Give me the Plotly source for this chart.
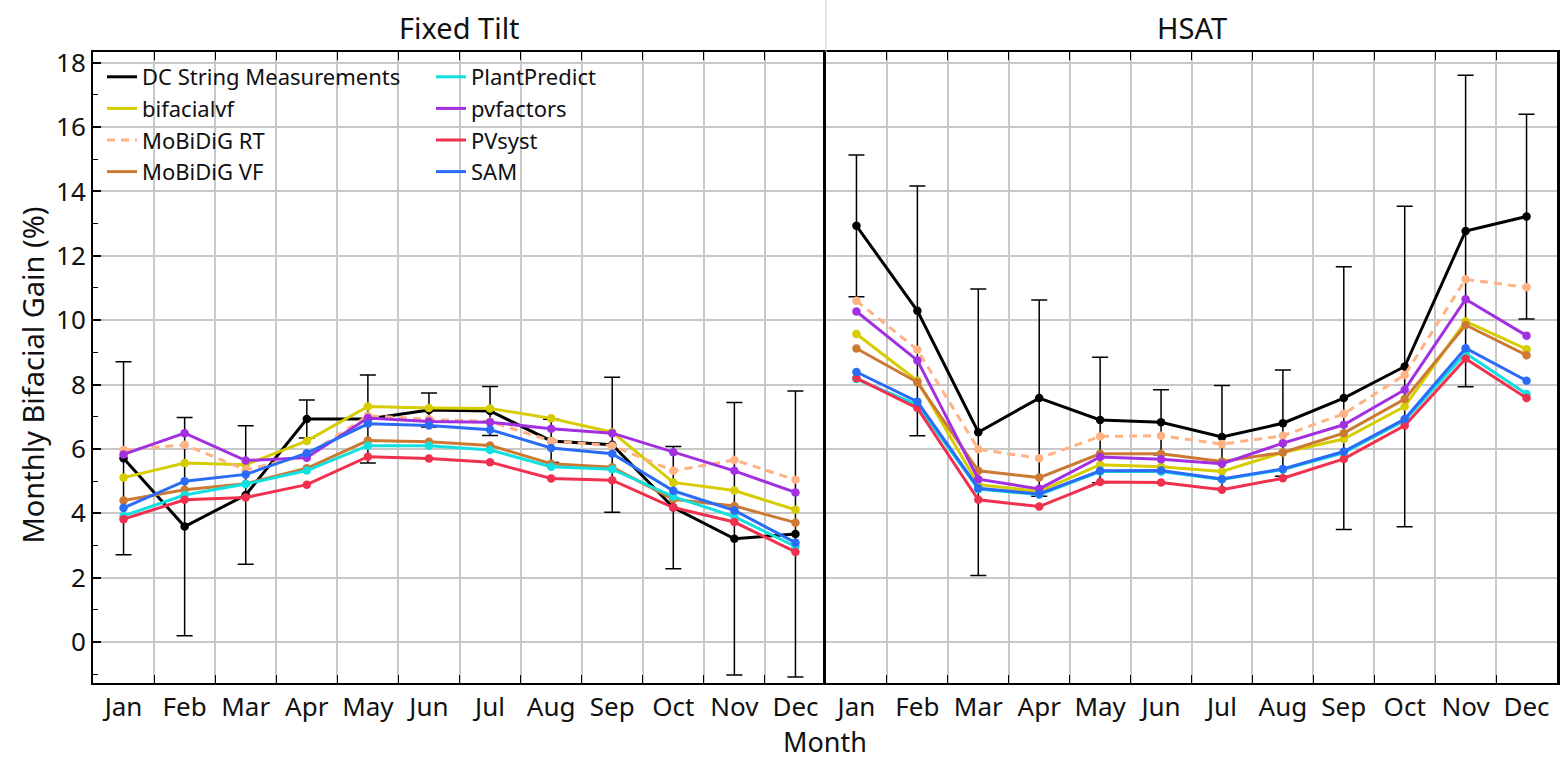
import plotly.graph_objects as go

# ---------------- data ----------------
months = ["Jan", "Feb", "Mar", "Apr", "May", "Jun", "Jul", "Aug", "Sep", "Oct", "Nov", "Dec"]
month_pos = list(range(1, 13))

panel_titles = ["Fixed Tilt", "HSAT"]

# Fixed tilt
fixed_dc = [5.71, 3.59, 4.57, 6.93, 6.93, 7.21, 7.18, 6.25, 6.13, 4.18, 3.21, 3.36]
fixed_dc_err = [3.0, 3.39, 2.15, 0.59, 1.37, 0.53, 0.76, 0.67, 2.1, 1.9, 4.23, 4.44]
fixed_bifacialvf = [5.11, 5.56, 5.51, 6.25, 7.32, 7.27, 7.26, 6.95, 6.52, 4.96, 4.71, 4.11]
fixed_mobidig_rt = [5.97, 6.13, 5.35, 5.80, 7.03, 6.92, 6.85, 6.25, 6.10, 5.32, 5.66, 5.04]
fixed_mobidig_vf = [4.40, 4.73, 4.92, 5.40, 6.26, 6.22, 6.11, 5.54, 5.43, 4.44, 4.23, 3.71]
fixed_plantpredict = [3.92, 4.57, 4.91, 5.33, 6.10, 6.10, 5.97, 5.45, 5.37, 4.52, 3.90, 2.97]
fixed_pvfactors = [5.83, 6.49, 5.64, 5.73, 6.96, 6.85, 6.83, 6.63, 6.49, 5.90, 5.32, 4.65]
fixed_pvsyst = [3.82, 4.42, 4.49, 4.89, 5.76, 5.70, 5.59, 5.08, 5.03, 4.18, 3.73, 2.80]
fixed_sam = [4.17, 5.00, 5.21, 5.87, 6.78, 6.73, 6.60, 6.03, 5.85, 4.70, 4.09, 3.09]

# HSAT
hsat_dc = [12.93, 10.29, 6.52, 7.58, 6.90, 6.83, 6.37, 6.80, 7.58, 8.56, 12.77, 13.22]
hsat_dc_err = [2.2, 3.88, 4.45, 3.05, 1.95, 1.01, 1.6, 1.65, 4.08, 4.98, 4.84, 3.18]
hsat_bifacialvf = [9.57, 8.12, 4.89, 4.68, 5.51, 5.45, 5.30, 5.89, 6.31, 7.32, 9.96, 9.10]
hsat_mobidig_rt = [10.60, 9.08, 5.99, 5.71, 6.39, 6.41, 6.15, 6.41, 7.09, 8.30, 11.27, 11.02]
hsat_mobidig_vf = [9.12, 8.07, 5.32, 5.11, 5.85, 5.85, 5.61, 5.89, 6.49, 7.55, 9.85, 8.91]
hsat_plantpredict = [8.17, 7.37, 4.75, 4.58, 5.30, 5.30, 5.05, 5.36, 5.88, 6.88, 8.97, 7.71]
hsat_pvfactors = [10.27, 8.75, 5.06, 4.76, 5.75, 5.68, 5.54, 6.18, 6.75, 7.84, 10.65, 9.52]
hsat_pvsyst = [8.20, 7.27, 4.42, 4.21, 4.97, 4.96, 4.73, 5.09, 5.69, 6.73, 8.80, 7.58]
hsat_sam = [8.39, 7.47, 4.78, 4.60, 5.32, 5.33, 5.07, 5.38, 5.92, 6.93, 9.13, 8.12]

series_names = ["DC String Measurements", "bifacialvf", "MoBiDiG RT", "MoBiDiG VF",
                "PlantPredict", "pvfactors", "PVsyst", "SAM"]
series_colors = ["#000000", "#d6cc00", "#ffb283", "#cc7a33",
                 "#12dfdf", "#a22fe0", "#f0304f", "#2b6cf6"]
series_dash = ["solid", "solid", "8px,6px", "solid", "solid", "solid", "solid", "solid"]

fixed_series = [fixed_dc, fixed_bifacialvf, fixed_mobidig_rt, fixed_mobidig_vf,
                fixed_plantpredict, fixed_pvfactors, fixed_pvsyst, fixed_sam]
hsat_series = [hsat_dc, hsat_bifacialvf, hsat_mobidig_rt, hsat_mobidig_vf,
               hsat_plantpredict, hsat_pvfactors, hsat_pvsyst, hsat_sam]

# ---------------- figure ----------------
W, H = 1565, 762
ML, MR, MT, MB = 93, 8, 52, 79
PW = W - ML - MR
PH = H - MT - MB
split = 733 / PW

FONT = "Noto Sans"
TXT = "#111111"
GRID = "#c8c8c8"

fig = go.Figure()

for panel, (data, xa, ya) in enumerate([(fixed_series, "x", "y"), (hsat_series, "x2", "y2")]):
    for i, (name, vals) in enumerate(zip(series_names, data)):
        err = None
        if i == 0:
            err = dict(type="data", array=fixed_dc_err if panel == 0 else hsat_dc_err,
                       visible=True, color="#000000", thickness=1.5, width=8)
        fig.add_trace(go.Scatter(
            x=month_pos, y=vals, xaxis=xa, yaxis=ya, mode="lines+markers",
            name=name, showlegend=False,
            line=dict(color=series_colors[i], width=3, dash=series_dash[i]),
            marker=dict(color=series_colors[i], size=8.5),
            error_y=err,
        ))

# legend-only entries (lines only, two columns)
for i, name in enumerate(series_names):
    fig.add_trace(go.Scatter(
        x=[None], y=[None], mode="lines", name=name,
        line=dict(color=series_colors[i], width=3, dash=series_dash[i]),
        legend="legend" if i < 4 else "legend2", xaxis="x", yaxis="y",
    ))

minor_x = [p + 0.5 for p in month_pos[:-1]]

xcommon = dict(
    range=[0.5, 12.5], tickmode="array", tickvals=month_pos, ticktext=months,
    ticks="", showgrid=False, zeroline=False,
    showline=True, linecolor="#000000", linewidth=2, mirror="ticks",
    tickfont=dict(family=FONT, size=26, color=TXT),
    minor=dict(tickmode="array", tickvals=minor_x, ticks="inside", ticklen=8,
               tickcolor="#000000", tickwidth=1.2,
               showgrid=True, gridcolor=GRID, gridwidth=1.5),
)

ycommon = dict(
    range=[-1.27, 18.33], tick0=0, dtick=2, zeroline=False,
    showgrid=True, gridcolor=GRID, gridwidth=1.5,
    showline=True, linecolor="#000000", linewidth=2,
)

fig.update_layout(
    width=W, height=H,
    margin=dict(l=ML, r=MR, t=MT, b=MB, autoexpand=False),
    paper_bgcolor="white", plot_bgcolor="white",
    font=dict(family=FONT, color=TXT),
    xaxis=dict(domain=[0, split], anchor="y", **xcommon),
    xaxis2=dict(domain=[split, 1], anchor="y2", **xcommon),
    yaxis=dict(anchor="x", ticks="inside", ticklen=8, tickwidth=1.5, tickcolor="#000000",
               tickfont=dict(family=FONT, size=26, color=TXT),
               minor=dict(dtick=1, ticks="inside", ticklen=5, tickwidth=1.2,
                          tickcolor="#000000", showgrid=False),
               **ycommon),
    yaxis2=dict(anchor="x2", matches="y", showticklabels=False, ticks="",
                mirror=True, **{k: v for k, v in ycommon.items() if k not in ("linewidth",)},
                linewidth=2.5),
    legend=dict(x=9 / PW, y=1 - 4 / PH, xanchor="left", yanchor="top",
                bgcolor="rgba(0,0,0,0)", font=dict(family=FONT, size=22, color=TXT),
                itemwidth=30),
    legend2=dict(x=338 / PW, y=1 - 4 / PH, xanchor="left", yanchor="top",
                 bgcolor="rgba(0,0,0,0)", font=dict(family=FONT, size=22, color=TXT),
                 itemwidth=30),
    showlegend=True,
)

# panel titles
for j, t in enumerate(panel_titles):
    cx = split / 2 if j == 0 else (split + 1) / 2
    fig.add_annotation(text=t, xref="paper", yref="paper", x=cx, y=1 + 24 / PH,
                       xanchor="center", yanchor="middle", showarrow=False,
                       font=dict(family=FONT, size=29, color=TXT))

# thin separator between panel titles
fig.add_shape(type="line", xref="paper", yref="paper", x0=split, x1=split,
              y0=1, y1=1 + MT / PH, line=dict(color="#d0d0d0", width=1))

# axis titles
fig.add_annotation(text="Month", xref="paper", yref="paper", x=0.5, y=-(741 - (MT + PH)) / PH,
                   xanchor="center", yanchor="middle", showarrow=False, borderpad=0,
                   font=dict(family=FONT, size=27, color=TXT))
fig.add_annotation(text="Monthly Bifacial Gain (%)", xref="paper", yref="paper",
                   x=(32 - ML) / PW, y=0.5 + (367 - 375) / PH, textangle=-90,
                   xanchor="center", yanchor="middle", showarrow=False,
                   font=dict(family=FONT, size=29, color=TXT))

fig.write_html("out.html", config={"displayModeBar": False},
               post_script="document.body.style.margin='0';document.body.style.padding='0';")
